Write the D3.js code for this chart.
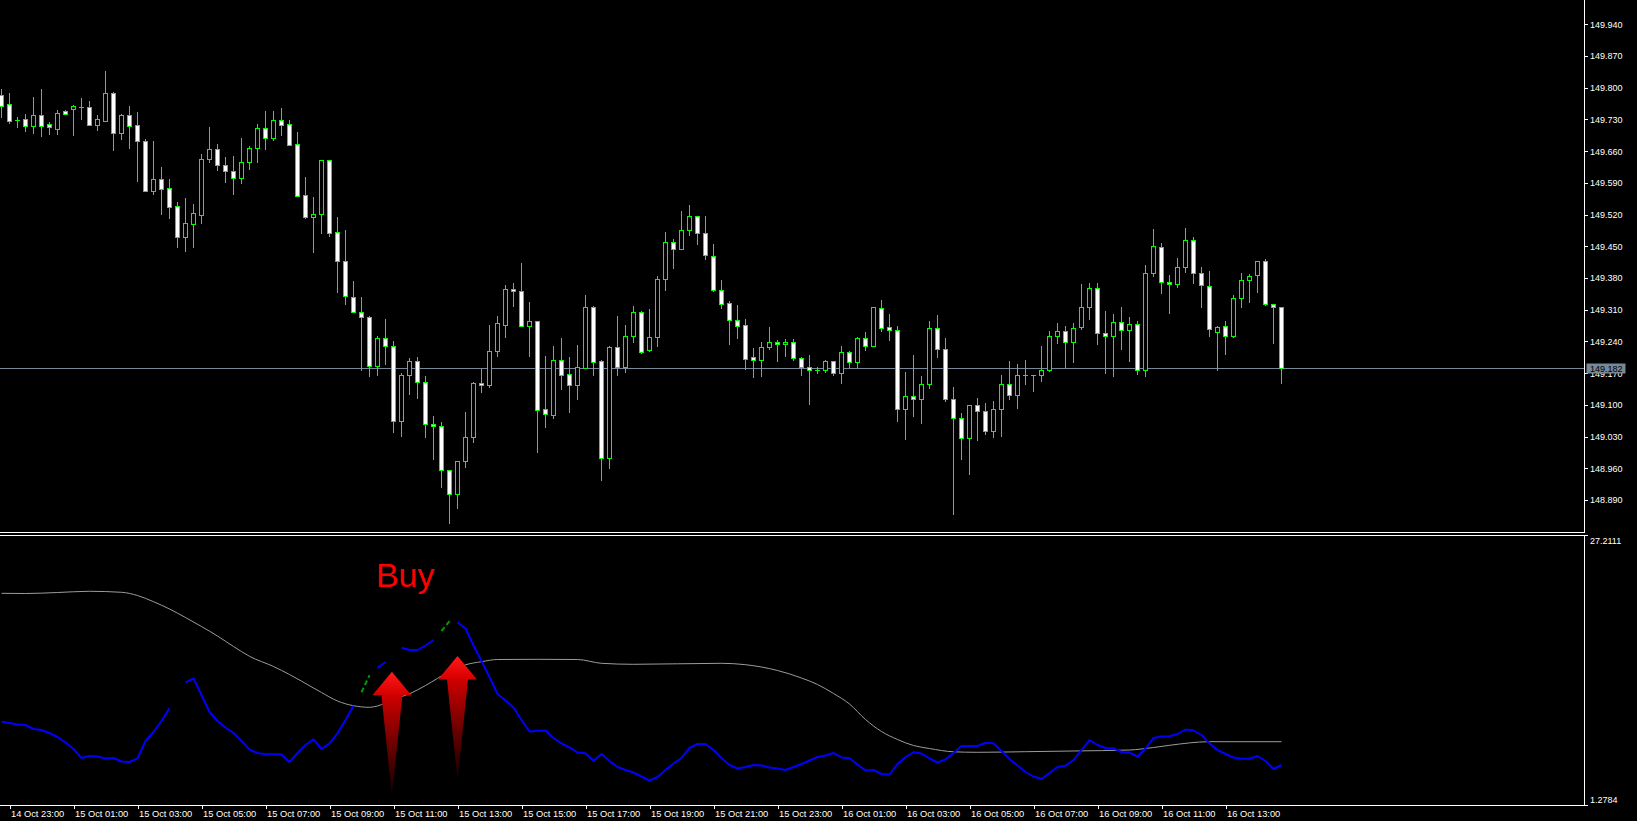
<!DOCTYPE html>
<html><head><meta charset="utf-8">
<script src="https://cdn.jsdelivr.net/npm/d3@7"></script>
<style>html,body{margin:0;padding:0;background:#000;overflow:hidden}svg{display:block}</style>
</head><body><svg id="chart" width="1637" height="821"></svg>
<script>
// ---- 15-minute candles, 14 Oct 22:45 .. 16 Oct 14:45 ----
const openP = [
149.784,149.763,149.729,149.730,149.716,149.739,149.720,149.710,149.749,149.752,
149.758,149.757,149.718,149.727,149.788,149.701,149.739,149.718,149.683,149.573,
149.598,149.578,149.538,149.470,149.500,149.520,149.643,149.664,149.630,149.617,
149.601,149.635,149.666,149.711,149.690,149.728,149.719,149.675,149.563,149.515,
149.521,149.640,149.481,149.417,149.337,149.306,149.295,149.185,149.247,149.229,
149.064,149.166,149.196,149.150,149.057,149.053,148.956,148.903,148.976,149.029,
149.148,149.143,149.218,149.277,149.356,149.351,149.275,149.284,149.090,149.078,
149.198,149.168,149.143,149.182,149.316,149.196,148.983,149.227,149.184,149.251,
149.304,149.220,149.249,149.377,149.459,149.445,149.485,149.516,149.479,149.428,
149.353,149.324,149.287,149.276,149.205,149.200,149.227,149.238,149.234,149.238,
149.203,149.184,149.176,149.177,149.196,149.171,149.216,149.195,149.247,149.231,
149.313,149.271,149.265,149.090,149.119,149.114,149.145,149.269,149.223,149.114,
149.070,149.026,149.099,149.086,149.042,149.090,149.145,149.121,149.167,149.165,
149.165,149.176,149.251,149.262,149.239,149.271,149.315,149.357,149.258,149.251,
149.282,149.265,149.278,149.178,149.392,149.448,149.371,149.366,149.404,149.463,
149.392,149.362,149.260,149.273,149.251,149.335,149.375,149.386,149.417,149.322,
149.315];
const highP = [
149.797,149.788,149.735,149.742,149.780,149.797,149.725,149.751,149.751,149.762,
149.777,149.771,149.740,149.837,149.791,149.742,149.760,149.746,149.687,149.683,
149.625,149.599,149.548,149.557,149.543,149.654,149.713,149.676,149.647,149.649,
149.689,149.671,149.720,149.749,149.749,149.755,149.729,149.702,149.603,149.559,
149.641,149.641,149.515,149.486,149.374,149.338,149.296,149.252,149.289,149.241,
149.171,149.204,149.206,149.164,149.075,149.062,148.957,148.977,149.084,149.151,
149.180,149.277,149.297,149.364,149.369,149.413,149.327,149.285,149.208,149.230,
149.247,149.206,149.232,149.342,149.318,149.199,149.230,149.296,149.276,149.318,
149.307,149.311,149.384,149.481,149.465,149.528,149.541,149.517,149.516,149.455,
149.376,149.329,149.320,149.289,149.225,149.239,149.272,149.243,149.245,149.245,
149.205,149.210,149.183,149.199,149.197,149.230,149.218,149.250,149.260,149.316,
149.331,149.300,149.274,149.172,149.210,149.164,149.285,149.298,149.247,149.140,
149.082,149.100,149.115,149.104,149.109,149.165,149.197,149.190,149.198,149.166,
149.230,149.262,149.280,149.274,149.280,149.367,149.370,149.370,149.308,149.300,
149.316,149.295,149.284,149.408,149.488,149.457,149.386,149.424,149.490,149.470,
149.404,149.395,149.273,149.285,149.342,149.390,149.389,149.418,149.422,149.323,
149.316];
const lowP = [
149.736,149.722,149.714,149.705,149.701,149.694,149.698,149.698,149.742,149.696,
149.731,149.717,149.707,149.726,149.663,149.687,149.667,149.594,149.572,149.565,
149.521,149.512,149.448,149.440,149.448,149.502,149.635,149.618,149.592,149.565,
149.590,149.621,149.635,149.665,149.685,149.696,149.673,149.560,149.512,149.438,
149.479,149.473,149.350,149.323,149.304,149.176,149.164,149.166,149.191,149.041,
149.032,149.125,149.116,149.028,148.980,148.919,148.840,148.873,148.962,149.017,
149.129,149.140,149.208,149.250,149.319,149.273,149.208,148.997,149.052,149.072,
149.134,149.085,149.112,149.181,149.166,148.935,148.961,149.166,149.173,149.239,
149.215,149.219,149.231,149.354,149.401,149.444,149.476,149.455,149.422,149.351,
149.313,149.234,149.248,149.180,149.161,149.163,149.223,149.197,149.208,149.199,
149.166,149.103,149.171,149.172,149.166,149.148,149.184,149.184,149.222,149.229,
149.263,149.244,149.065,149.025,149.075,149.061,149.138,149.206,149.108,148.860,
148.981,148.948,149.023,149.035,149.030,149.032,149.112,149.092,149.145,149.131,
149.153,149.175,149.236,149.184,149.195,149.267,149.290,149.235,149.171,149.164,
149.224,149.197,149.168,149.164,149.385,149.348,149.302,149.360,149.393,149.368,
149.315,149.253,149.178,149.213,149.250,149.315,149.326,149.350,149.321,149.237,
149.148];
const closeP = [
149.760,149.727,149.728,149.715,149.739,149.716,149.714,149.744,149.743,149.759,
149.758,149.718,149.730,149.788,149.701,149.740,149.716,149.683,149.573,149.598,
149.577,149.537,149.470,149.501,149.523,149.642,149.664,149.630,149.617,149.601,
149.635,149.667,149.711,149.690,149.728,149.717,149.674,149.562,149.515,149.521,
149.640,149.480,149.417,149.340,149.306,149.295,149.185,149.247,149.229,149.064,
149.166,149.196,149.150,149.057,149.053,148.956,148.903,148.976,149.029,149.148,
149.143,149.218,149.280,149.356,149.351,149.275,149.284,149.089,149.079,149.198,
149.167,149.143,149.183,149.317,149.195,148.983,149.227,149.184,149.251,149.304,
149.217,149.249,149.377,149.459,149.445,149.485,149.516,149.479,149.430,149.353,
149.323,149.288,149.275,149.202,149.200,149.227,149.238,149.234,149.238,149.203,
149.184,149.176,149.176,149.196,149.171,149.216,149.195,149.247,149.231,149.315,
149.269,149.265,149.090,149.119,149.114,149.145,149.269,149.223,149.112,149.070,
149.026,149.099,149.086,149.042,149.090,149.145,149.121,149.165,149.166,149.165,
149.176,149.251,149.262,149.239,149.269,149.315,149.357,149.258,149.251,149.282,
149.265,149.278,149.178,149.392,149.450,149.371,149.366,149.404,149.463,149.392,
149.364,149.267,149.271,149.251,149.335,149.375,149.384,149.417,149.322,149.315,
149.182];
const priceTicks = [149.940,149.870,149.800,149.730,149.660,149.590,149.520,149.450,
  149.380,149.310,149.240,149.170,149.100,149.030,148.960,148.890];

// ---- indicator window ----
const blueV = [
9.279,9.154,9.010,8.962,8.578,8.482,8.194,7.810,7.281,6.657,
5.793,5.985,5.937,5.744,5.793,5.456,5.408,5.764,7.425,8.290,
9.346,10.566,null,13.063,13.447,11.843,10.211,9.346,8.722,8.194,
7.425,6.609,6.273,6.148,6.148,6.129,5.408,6.273,7.041,7.589,
6.657,7.185,8.165,9.442,10.816,null,null,14.437,15.013,null,
16.386,16.166,16.166,16.598,17.126,null,null,18.826,18.231,16.598,
15.109,13.572,11.940,11.315,10.643,9.442,8.338,8.415,8.434,7.713,
7.185,6.820,6.321,6.244,5.533,6.177,5.504,4.928,4.640,4.400,
4.016,3.631,3.968,4.640,5.264,5.793,6.753,7.137,7.137,6.561,
5.793,5.120,4.784,4.928,5.120,5.072,4.880,4.784,4.640,4.928,
5.216,5.552,5.889,6.033,6.273,5.841,5.764,5.168,4.592,4.640,
4.256,4.208,5.216,5.889,6.340,6.225,5.744,5.360,5.648,6.273,
6.945,6.945,6.945,7.262,7.204,6.465,5.696,5.072,4.448,4.016,
3.776,4.352,4.928,5.053,5.600,6.561,7.521,7.041,6.753,6.724,
6.369,6.321,5.917,6.705,7.713,7.858,7.886,8.098,8.530,8.434,
8.002,7.185,6.561,6.177,5.841,5.725,5.725,5.985,5.504,4.736,
5.120];
const greenK = [45, 46, 55, 56];
const greenV = [12.103, 13.736, 17.990, 18.951];
const greyK = [0,3,7,11,15,17,19,21,23,25,27,29,31,34,36,39,40,42,44,46,47,49,51,53,56,58,60,62,67,72,75,79,90,93,97,100,102,104,106,108,110,112,114,116,119,122,128,134,141,144,146,151,160];
const greyV = [21.611,21.592,21.688,21.804,21.708,21.400,20.805,20.104,19.287,18.423,17.510,16.502,15.561,14.581,13.812,12.516,12.084,11.267,10.816,10.662,10.787,11.440,11.959,12.756,14.101,14.744,15.042,15.253,15.272,15.253,14.888,14.792,14.888,14.754,14.197,13.476,12.852,11.988,10.979,9.490,8.338,7.569,6.993,6.705,6.388,6.340,6.398,6.465,6.561,6.801,7.012,7.358,7.358];
const indTicks = [27.2111, 1.2784];
const arrowK = [48.8, 57];
const arrowV = [14.08, 15.59];
const buyText = "Buy", buyK = 46.8, buyV = 22.17;

// ---- layout ----
const AX = 1584;
const t0 = Date.UTC(2024, 9, 14, 22, 45);
const STEP = 15 * 60 * 1000;
const n = closeP.length;
const xs = d3.scaleUtc().domain([new Date(t0), new Date(t0 + (n - 1) * STEP)]).range([1.5, 1281.5]);
const xi = k => xs(new Date(t0 + k * STEP));
const yP = d3.scaleLinear().domain([148.890, 149.940]).range([500, 24.3]);
const yI = d3.scaleLinear().domain([indTicks[1], indTicks[0]]).range([805, 535]);
const FONT = "'Liberation Sans', Arial, sans-serif";

const svg = d3.select('#chart');
svg.append('rect').attr('width', 1637).attr('height', 821).attr('fill', '#000');

// current price line
const last = closeP[n - 1];
const yCur = Math.round(yP(last)) + 0.5;
svg.append('line').attr('x1', 0).attr('x2', AX).attr('y1', yCur).attr('y2', yCur)
  .attr('stroke', '#778899').attr('stroke-width', 1);

// candles
const cg = svg.append('g').attr('shape-rendering', 'crispEdges');
for (let k = 0; k < n; k++) {
  const cx = Math.round(xi(k) - 0.5) + 0.5;
  const yh = Math.round(yP(highP[k])), yl = Math.round(yP(lowP[k]));
  cg.append('line').attr('x1', cx).attr('x2', cx).attr('y1', yh).attr('y2', yl + 1)
    .attr('stroke', '#00ff00').attr('stroke-width', 1);
  const yo = Math.round(yP(openP[k])), yc = Math.round(yP(closeP[k]));
  if (yo === yc) {
    cg.append('line').attr('x1', cx - 2.5).attr('x2', cx + 2.5).attr('y1', yo + 0.5).attr('y2', yo + 0.5)
      .attr('stroke', '#00ff00').attr('stroke-width', 1);
  } else {
    cg.append('rect').attr('x', cx - 2).attr('width', 4)
      .attr('y', Math.min(yo, yc) + 0.5).attr('height', Math.abs(yo - yc))
      .attr('fill', closeP[k] < openP[k] ? '#ffffff' : '#000000')
      .attr('stroke', '#00ff00').attr('stroke-width', 1);
  }
}

// frames
const fr = svg.append('g').attr('stroke', '#ffffff').attr('stroke-width', 1).attr('shape-rendering', 'crispEdges').attr('fill', 'none');
fr.append('path').attr('d', `M${AX + 0.5},0 V532.5 H0`);
fr.append('path').attr('d', `M0,535.5 H${AX + 0.5} V805.5 H0`);

// price axis
const pa = svg.append('g').attr('transform', `translate(${AX},0)`)
  .call(d3.axisRight(yP).tickValues(priceTicks).tickSize(4).tickPadding(2).tickFormat(d3.format('.3f')));
pa.select('.domain').remove();
pa.selectAll('line').attr('stroke', '#fff').attr('shape-rendering', 'crispEdges');
pa.selectAll('text').attr('fill', '#fff').style('font-family', FONT).style('font-size', '9px');

// current price label
svg.append('rect').attr('x', AX + 2.5).attr('y', yCur - 5).attr('width', 39).attr('height', 10).attr('fill', '#778899');
svg.append('text').attr('x', AX + 6).attr('y', yCur + 3.5).attr('fill', '#000')
  .style('font-family', FONT).style('font-size', '9px').text(d3.format('.3f')(last));

// indicator axis labels
indTicks.forEach((v, i) => {
  const yy = Math.round(yI(v)) + 0.5;
  svg.append('line').attr('x1', AX).attr('x2', AX + 4).attr('y1', yy).attr('y2', yy)
    .attr('stroke', '#fff').attr('shape-rendering', 'crispEdges');
  svg.append('text').attr('x', AX + 6).attr('y', i === 0 ? yy + 8 : yy - 3)
    .attr('fill', '#fff').style('font-family', FONT).style('font-size', '9px')
    .text(d3.format('.4f')(v));
});

// time axis
const tickTimes = d3.utcHour.range(new Date(t0), new Date(t0 + (n - 1) * STEP + 1)).filter(d => d.getUTCHours() % 2 === 1);
const ta = svg.append('g').attr('transform', 'translate(0,805)')
  .call(d3.axisBottom(xs).tickValues(tickTimes).tickSize(4).tickFormat(d3.utcFormat('%d %b %H:%M')));
ta.select('.domain').remove();
ta.selectAll('line').attr('stroke', '#fff').attr('shape-rendering', 'crispEdges');
ta.selectAll('text').attr('fill', '#fff').attr('text-anchor', 'start').attr('x', 1).attr('y', 5)
  .attr('dy', '0.71em').style('font-family', FONT).style('font-size', '9.3px');

// indicator lines
const greyLine = d3.line().x((d, i) => xi(greyK[i])).y(d => yI(d)).curve(d3.curveMonotoneX);
svg.append('path').attr('d', greyLine(greyV)).attr('fill', 'none').attr('stroke', '#9c9c9c').attr('stroke-width', 1);

const blueLine = d3.line().defined(d => d != null).x((d, i) => xi(i)).y(d => yI(d));
svg.append('path').attr('d', blueLine(blueV)).attr('fill', 'none').attr('stroke', '#0000ff')
  .attr('stroke-width', 2).attr('stroke-linejoin', 'round');

const greenArr = new Array(n).fill(null);
greenK.forEach((k, i) => { greenArr[k] = greenV[i]; });
svg.append('path').attr('d', blueLine(greenArr)).attr('fill', 'none').attr('stroke', '#009a00')
  .attr('stroke-width', 2).attr('stroke-dasharray', '5,3');

// arrows
const defs = svg.append('defs');
const grad = defs.append('linearGradient').attr('id', 'arrGrad').attr('x1', 0).attr('y1', 0).attr('x2', 0).attr('y2', 1);
[[0, '#ff1a1a'], [0.18, '#d80000'], [0.2, '#cc0000'], [0.6, '#6a0000'], [1, '#120000']]
  .forEach(([o, c]) => grad.append('stop').attr('offset', o).attr('stop-color', c));
arrowK.forEach((k, i) => {
  svg.append('path').attr('transform', `translate(${xi(k)},${yI(arrowV[i])})`)
    .attr('d', 'M0,0 L19.5,23.5 L10.5,23.5 L0,124 L-10.5,23.5 L-19.5,23.5 Z')
    .attr('fill', 'url(#arrGrad)');
});

// Buy label
svg.append('text').attr('x', xi(buyK)).attr('y', yI(buyV)).attr('fill', '#ff0000')
  .style('font-family', FONT).style('font-size', '34px').text(buyText);
</script>
</body></html>
